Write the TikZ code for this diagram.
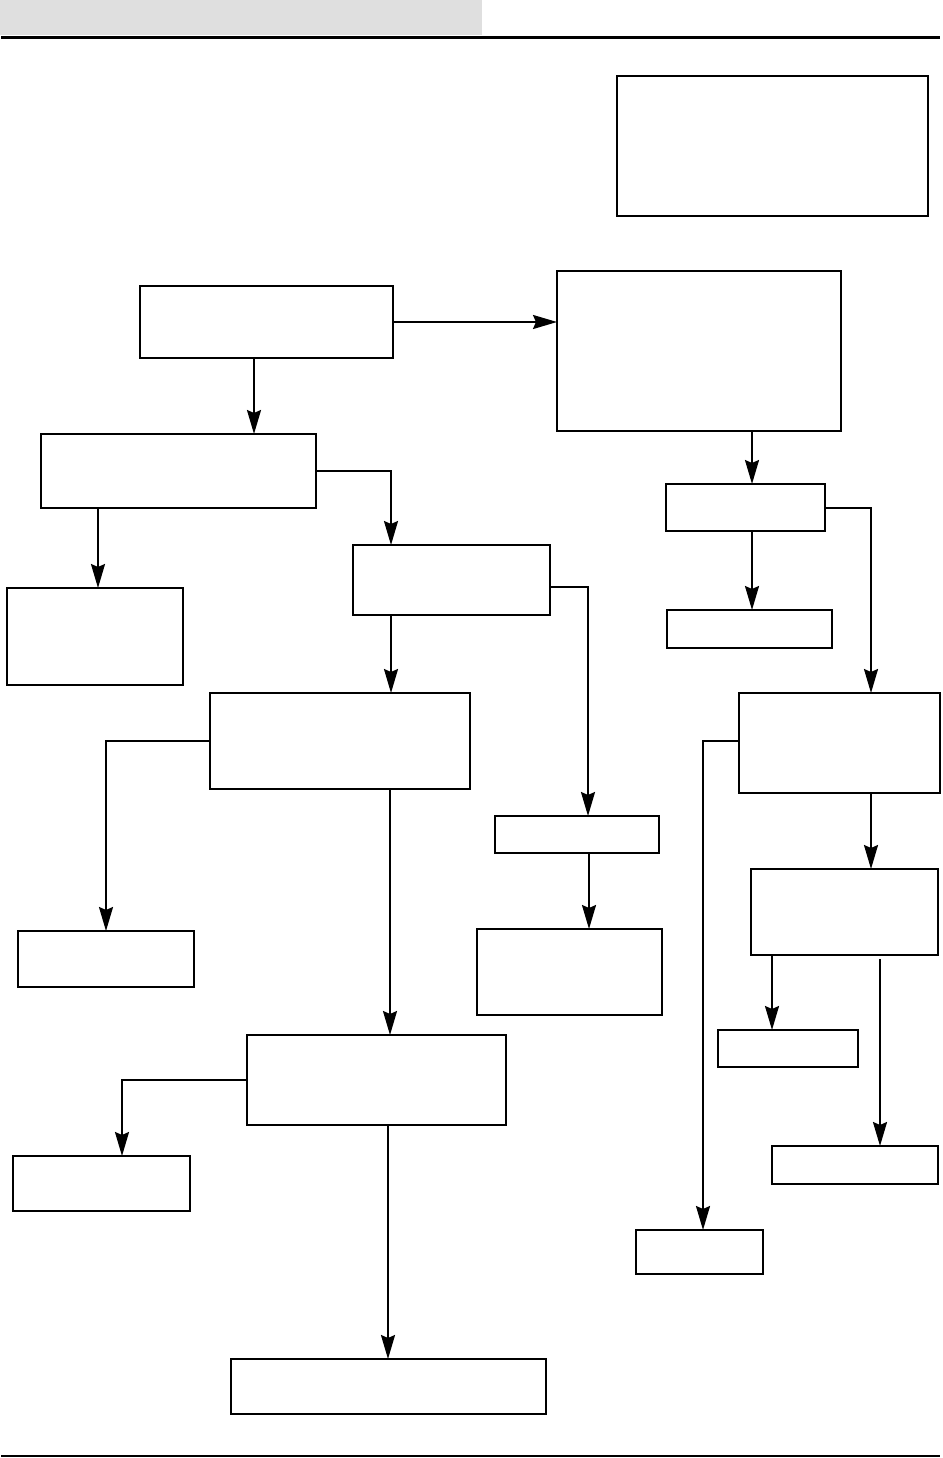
\documentclass[tikz,border=0pt]{standalone}
\usetikzlibrary{arrows.meta}
\definecolor{hdrgray}{RGB}{223,223,223}
\tikzset{
  box/.style={draw=black,line width=2.4pt,inner sep=0pt,outer sep=0pt,anchor=north west,fill=white},
  arr/.style={line width=2pt,-{Stealth[length=24pt,width=14pt,inset=3pt]}},
}
\newcommand\bx[5]{\node[box,minimum width={(#4-#2)*1pt},minimum height={(#5-#3)*1pt}] (#1) at (#2,#3) {};}
\begin{document}
\begin{tikzpicture}[x=1pt,y=-1pt]
\useasboundingbox (0,0) rectangle (942,1458);
\fill[hdrgray] (0,0) rectangle (482,35);
\draw[line width=3pt] (1,38) -- (940,38);
\draw[line width=2.5pt] (1,1456) -- (940,1456);
% boxes
\bx{B0}{617}{76}{928}{216}
\bx{A}{140}{286}{393}{358}
\bx{R1}{557}{271}{841}{431}
\bx{B}{41}{434}{316}{508}
\bx{C}{7}{588}{183}{685}
\bx{D}{353}{545}{550}{615}
\bx{E}{210}{693}{470}{789}
\bx{F}{18}{931}{194}{987}
\bx{G}{495}{816}{659}{853}
\bx{H}{477}{929}{662}{1015}
\bx{I}{247}{1035}{506}{1125}
\bx{J}{13}{1156}{190}{1211}
\bx{K}{231}{1359}{546}{1414}
\bx{R2}{666}{484}{825}{531}
\bx{R3}{667}{610}{832}{648}
\bx{R4}{739}{693}{940}{793}
\bx{R5}{751}{869}{938}{955}
\bx{R6}{718}{1030}{858}{1067}
\bx{R7}{772}{1146}{938}{1184}
\bx{R8}{636}{1230}{763}{1274}
% connectors
\draw[arr] (A.east) -- (A.east -| R1.west);
\draw[arr] ([xshift=114pt]A.south west) -- ([xshift=114pt]A.south west |- B.north);
\draw[arr] ([xshift=57pt]B.south west) -- ([xshift=57pt]B.south west |- C.north);
\draw[arr] (B.east) -| ([xshift=38pt]D.north west);
\draw[arr] ([xshift=38pt]D.south west) -- ([xshift=38pt]D.south west |- E.north);
\draw[arr] ([yshift=-7pt]D.east) -| ([xshift=93pt]G.north west);
\draw[arr] (E.west) -| ([xshift=88pt]F.north west);
\draw[arr] ([xshift=180pt]E.south west) -- ([xshift=180pt]E.south west |- I.north);
\draw[arr] ([xshift=94pt]G.south west) -- ([xshift=94pt]G.south west |- H.north);
\draw[arr] (I.west) -| ([xshift=109pt]J.north west);
\draw[arr] ([xshift=141pt]I.south west) -- ([xshift=141pt]I.south west |- K.north);
\draw[arr] ([xshift=195pt]R1.south west) -- ([xshift=195pt]R1.south west |- R2.north);
\draw[arr] ([xshift=86pt]R2.south west) -- ([xshift=86pt]R2.south west |- R3.north);
\draw[arr] (R2.east) -| ([xshift=132pt]R4.north west);
\draw[arr] ([xshift=132pt]R4.south west) -- ([xshift=132pt]R4.south west |- R5.north);
\draw[arr] ([yshift=2pt]R4.west) -| ([xshift=67pt]R8.north west);
\draw[arr] ([xshift=21pt]R5.south west) -- ([xshift=21pt]R5.south west |- R6.north);
\draw[arr] ([xshift=129pt,yshift=-4pt]R5.south west) -- ([xshift=129pt]R5.south west |- R7.north);
\end{tikzpicture}
\end{document}
